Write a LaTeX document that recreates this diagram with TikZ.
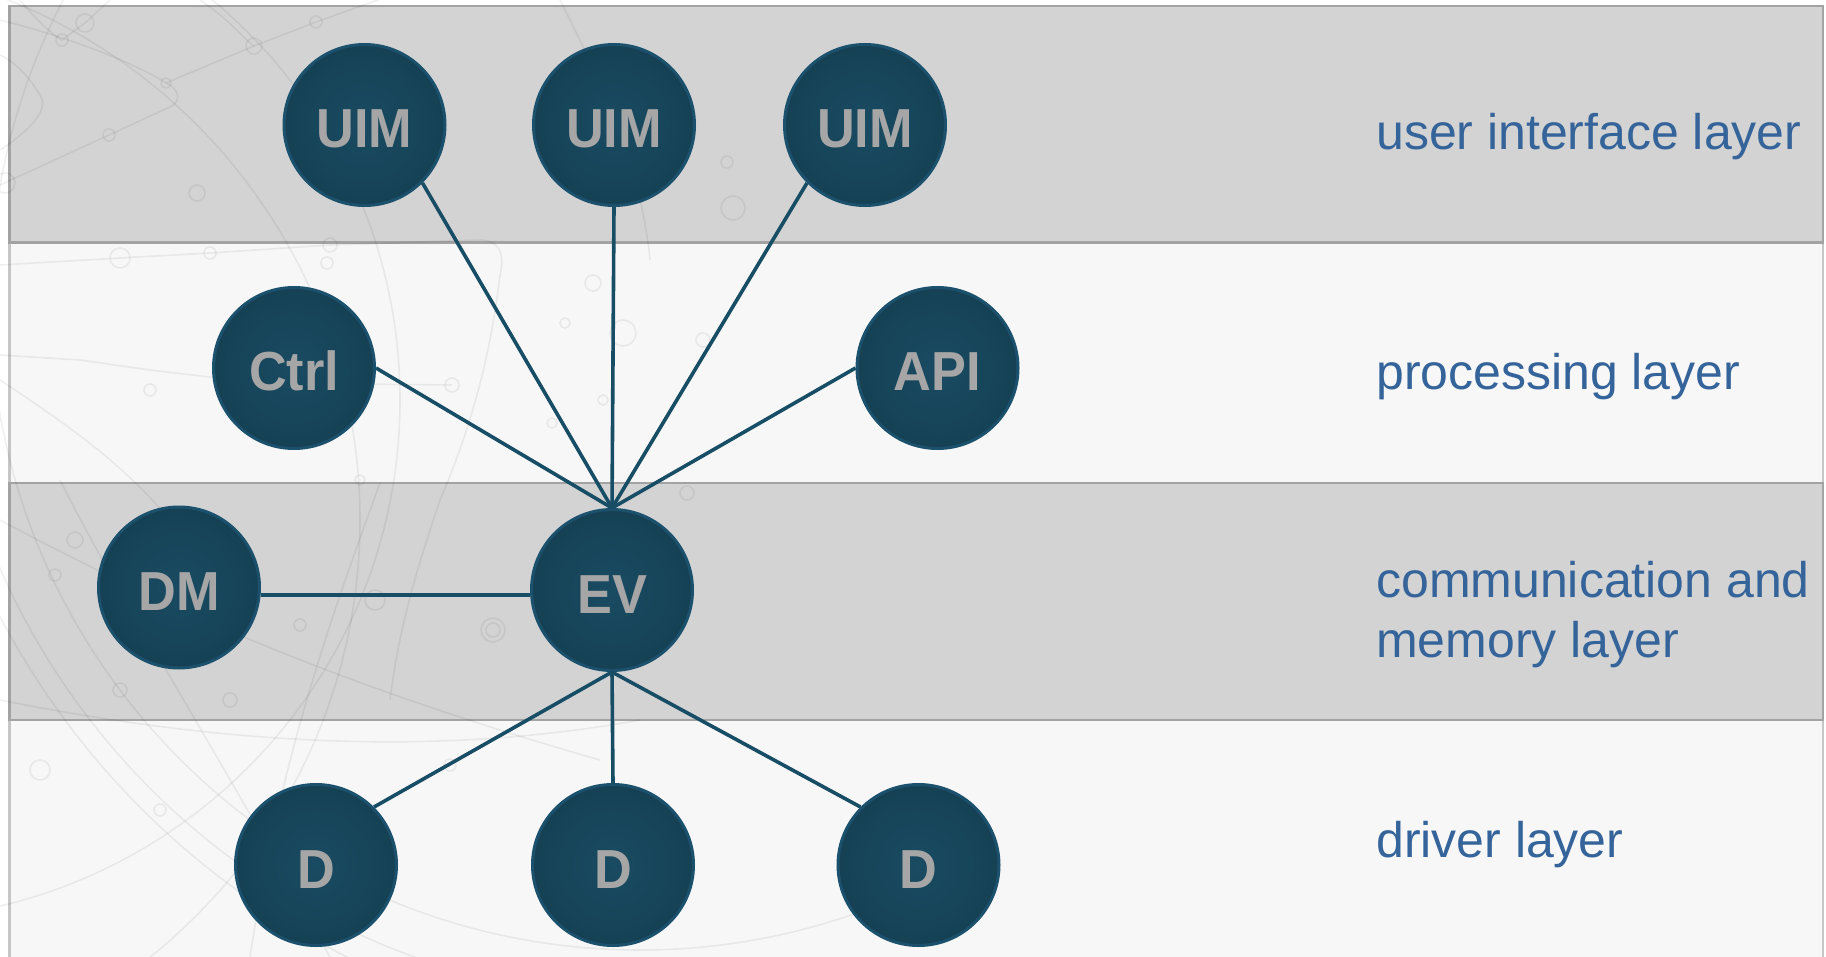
\documentclass[tikz,border=0pt]{standalone}
\usepackage{fontspec}
\setmainfont{Liberation Sans}
\newfontfamily\orbfont[FakeStretch=0.95]{Liberation Sans}
\usetikzlibrary{calc}

\definecolor{bandgray}{HTML}{D3D3D3}
\definecolor{bandlight}{HTML}{F7F7F7}
\definecolor{bandline}{HTML}{A3A3A3}
\definecolor{labelblue}{HTML}{35649A}
\definecolor{edgeblue}{HTML}{184D66}
\definecolor{ringblue}{HTML}{1B516D}
\definecolor{orbinner}{HTML}{194B62}
\definecolor{orbouter}{HTML}{133849}
\definecolor{orbtext}{HTML}{A6A6A6}

\pgfdeclareradialshading{orbglow}{\pgfpoint{0bp}{0bp}}{%
  color(0bp)=(orbinner); color(20bp)=(orbinner!60!orbouter);
  color(42bp)=(orbouter); color(50bp)=(orbouter)}

\tikzset{
  orb/.style={circle, minimum size=161pt, inner sep=0pt, draw=ringblue,
    line width=3pt, shading=orbglow, text=orbtext,
    text height=46pt, text depth=0pt,
    font=\orbfont\bfseries\fontsize{55}{55}\selectfont},
  edge/.style={draw=edgeblue, line width=3.6pt},
  layerlabel/.style={anchor=base west, inner sep=0pt, text=labelblue,
    font=\fontsize{50}{60}\selectfont},
  bandrule/.style={draw=bandline, line width=2.5pt},
  deco/.style={draw=black, draw opacity=0.06, line width=1.6pt},
}

\begin{document}
\begin{tikzpicture}[x=1pt, y=-1pt]
\useasboundingbox (0,0) rectangle (1826,957);
\fill[white] (0,0) rectangle (1826,957);

% layer bands
\fill[bandgray]  (9.5,6)     rectangle (1823,242.5);
\fill[bandlight] (9.5,242.5) rectangle (1823,483);
\fill[bandgray]  (9.5,483)   rectangle (1823,720);
\fill[bandlight] (9.5,720)   rectangle (1823,957);
\draw[bandrule] (9.5,6) rectangle (1823,242.5);
\draw[bandrule] (9.5,483) rectangle (1823,720);
\draw[bandrule, draw opacity=0.6] (9.5,242.5) -- (9.5,483) (1823,242.5) -- (1823,483);
\draw[bandrule, draw opacity=0.6] (9.5,720) -- (9.5,957) (1823,720) -- (1823,957);

% faint circuit watermark
\begin{scope}
\clip (0,0) rectangle (860,957);
\draw[deco] (0,185) -- (109,135) -- (172,106) .. controls (182,100) and (178,88) .. (166,83);
\draw[deco] (166,83) -- (254,46) -- (316,22) -- (400,-8);
\draw[deco] (0,20) .. controls (60,35) and (130,60) .. (166,83);
\draw[deco] (0,150) .. controls (30,130) and (50,110) .. (40,95) .. controls (25,70) and (10,60) .. (0,55);
\draw[deco] (20,0) .. controls (40,25) and (60,40) .. (62,40) -- (85,23) -- (110,0);
\draw[deco] (200,0) .. controls (230,20) and (245,40) .. (254,46);
\draw[deco] (0,265) -- (120,258) -- (210,253) -- (330,245) -- (480,240) .. controls (500,240) and (505,255) .. (500,275);
\draw[deco] (500,275) .. controls (490,360) and (470,430) .. (440,500) .. controls (420,560) and (400,620) .. (390,700);
\draw[deco] (0,355) -- (80,360) -- (150,370) -- (260,383) -- (452,385);
\draw[deco] (0,380) .. controls (60,420) and (120,460) .. (170,520);
\draw[deco] (560,0) .. controls (600,80) and (640,160) .. (650,260);
\foreach \cx/\cy/\r in {85/23/9, 62/40/6, 166/83/5, 254/46/8, 316/22/6, 109/135/6,
    197/193/8, 5/183/10, 120/258/10, 210/253/6, 330/245/7, 452/385/7, 327/263/6,
    593/283/8, 565/323/5, 623/333/13, 703/340/7, 603/400/5, 552/423/5, 687/493/7,
    360/480/5, 727/162/6, 733/208/12, 493/630/12, 493/630/7, 150/390/6, 250/418/9,
    75/540/8, 55/575/6, 115/610/9, 230/700/7, 300/625/6, 375/600/10, 40/770/10,
    160/810/6, 120/690/7, 450/765/6}
  \draw[deco] (\cx,\cy) circle[radius=\r];
\draw[deco] (640,300) circle[radius=650];
\draw[deco] (660,280) circle[radius=720];
\draw[deco] (700,250) circle[radius=790];
\draw[deco] (-120,400) circle[radius=520];
\draw[deco] (-200,520) circle[radius=560];
\draw[deco] (60,480) .. controls (120,600) and (200,720) .. (330,957);
\draw[deco] (0,520) .. controls (150,600) and (320,680) .. (600,760);
\draw[deco] (0,700) .. controls (200,740) and (420,760) .. (640,720);
\draw[deco] (380,483) .. controls (330,620) and (280,760) .. (250,957);
\end{scope}

% modules
\node[orb] (uim1) at (364.5,125) {UIM};
\node[orb] (uim2) at (614,125)   {UIM};
\node[orb] (uim3) at (865,125)   {UIM};
\node[orb] (ctrl) at (294,368)   {Ctrl};
\node[orb] (api)  at (937.5,368) {API};
\node[orb] (dm)   at (179,587.5) {DM};
\node[orb] (ev)   at (612,590)   {EV};
\node[orb] (d1)   at (316,865)   {D};
\node[orb] (d2)   at (613,865)   {D};
\node[orb] (d3)   at (918.5,865) {D};

% connections to the event hub
\draw[edge] (uim1.south east) -- (ev.north);
\draw[edge] (uim2.south) -- (ev.north);
\draw[edge] (uim3.south west) -- (ev.north);
\draw[edge] (ctrl.east) -- (ev.north);
\draw[edge] (api.west) -- (ev.north);
\draw[edge] (dm.east |- 0,595) -- (ev.west |- 0,595);
\draw[edge] (ev.south) -- (d1.north east);
\draw[edge] (ev.south) -- (d2.north);
\draw[edge] (ev.south) -- (d3.north west);

% layer names
\node[layerlabel] (lui)   at (1376,150) {user interface layer};
\node[layerlabel] (lproc) at (1376,390) {processing layer};
\node[layerlabel] (lcomm) at (1376,597) {\vtop{\baselineskip=60pt\hbox{communication and}\hbox{memory layer}}};
\node[layerlabel] (ldrv)  at (1376,857) {driver layer};
\end{tikzpicture}
\end{document}
